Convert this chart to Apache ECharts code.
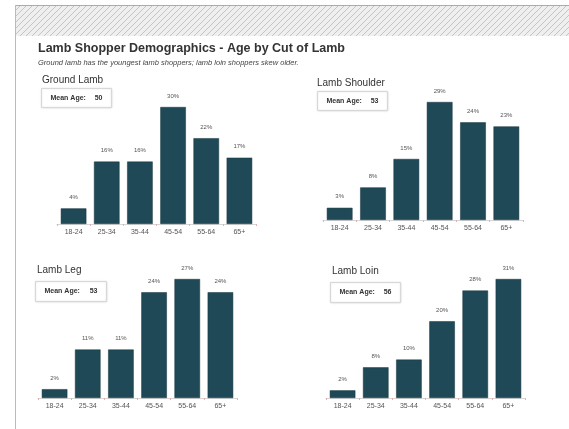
<!DOCTYPE html>
<html>
<head>
<meta charset="utf-8">
<script src="https://cdn.jsdelivr.net/npm/echarts@6/dist/echarts.min.js"></script>
<style>
  html, body { margin: 0; padding: 0; background: #fff; }
  #main { width: 569px; height: 429px; }
</style>
</head>
<body>
<div id="main"></div>
<script>
var ageGroups = ['18-24', '25-34', '35-44', '45-54', '55-64', '65+'];
var cuts = ['Ground Lamb', 'Lamb Shoulder', 'Lamb Leg', 'Lamb Loin'];
var groundLamb = [4, 16, 16, 30, 22, 17];
var lambShoulder = [3, 8, 15, 29, 24, 23];
var lambLeg = [2, 11, 11, 24, 27, 24];
var lambLoin = [2, 8, 10, 20, 28, 31];
var meanAges = [50, 53, 53, 56];

var seriesData = [groundLamb, lambShoulder, lambLeg, lambLoin];

// panel layout: grid box, title spot, mean age box
var panels = [
  { grid: { left: 57, width: 199, top: 107, height: 117 }, title: [42, 75], box: [41, 88, 70, 19] },
  { grid: { left: 323, width: 200, top: 102, height: 118 }, title: [317, 78], box: [317, 91, 70, 19] },
  { grid: { left: 38, width: 199, top: 279, height: 119 }, title: [37, 265], box: [35, 281, 71, 20] },
  { grid: { left: 326, width: 199, top: 279, height: 119 }, title: [332, 266], box: [330, 282, 70, 20] }
];

var barColor = '#1f4956';

// diagonal hatch for the header band
var hatch = document.createElement('canvas');
hatch.width = 6;
hatch.height = 6;
var hc = hatch.getContext('2d');
hc.fillStyle = '#efefef';
hc.fillRect(0, 0, 6, 6);
hc.strokeStyle = '#c4c4c4';
hc.lineWidth = 1;
hc.beginPath();
hc.moveTo(0, 6); hc.lineTo(6, 0);
hc.moveTo(-3, 3); hc.lineTo(3, -3);
hc.moveTo(3, 9); hc.lineTo(9, 3);
hc.stroke();

var myChart = echarts.init(document.getElementById('main'), null, { renderer: 'canvas' });

var titles = [{
  text: 'Lamb Shopper Demographics - Age by Cut of Lamb',
  subtext: 'Ground lamb has the youngest lamb shoppers; lamb loin shoppers skew older.',
  left: 38,
  top: 42,
  itemGap: 4,
  textStyle: { fontFamily: 'Liberation Sans', fontSize: 12.5, fontWeight: 'bold', color: '#333' },
  subtextStyle: { fontFamily: 'Liberation Sans', fontSize: 7.5, fontStyle: 'italic', color: '#444' },
  padding: 0
}];

var grids = [], xAxes = [], yAxes = [], series = [];
var graphics = [
  {
    type: 'rect', left: 15, top: 5, z: 0,
    shape: { width: 560, height: 31 },
    style: { fill: { image: hatch, repeat: 'repeat' } }
  },
  {
    type: 'line', z: 1,
    shape: { x1: 15, y1: 5.5, x2: 569, y2: 5.5 },
    style: { stroke: '#aaa', lineWidth: 1 }
  },
  {
    type: 'line', z: 1,
    shape: { x1: 15.5, y1: 5, x2: 15.5, y2: 429 },
    style: { stroke: '#bbb', lineWidth: 1 }
  }
];

panels.forEach(function (p, i) {
  titles.push({
    text: cuts[i],
    left: p.title[0],
    top: p.title[1],
    padding: 0,
    textStyle: { fontFamily: 'Liberation Sans', fontSize: 10, fontWeight: 'normal', color: '#333' }
  });
  grids.push(p.grid);
  xAxes.push({
    type: 'category',
    gridIndex: i,
    data: ageGroups,
    axisLine: { lineStyle: { color: '#d6d6d6' } },
    axisTick: { show: true, length: 2, lineStyle: { color: '#e4b0b0' } },
    axisLabel: { fontFamily: 'Liberation Sans', fontSize: 7, color: '#555', margin: 5 }
  });
  yAxes.push({
    type: 'value',
    gridIndex: i,
    min: 0,
    max: 'dataMax',
    show: false,
    splitLine: { show: false }
  });
  series.push({
    type: 'bar',
    xAxisIndex: i,
    yAxisIndex: i,
    data: seriesData[i],
    barWidth: '77%',
    itemStyle: { color: barColor, borderColor: '#16353f', borderWidth: 0.5 },
    label: {
      show: true,
      position: 'top',
      distance: 8,
      formatter: '{c}%',
      fontFamily: 'Liberation Sans',
      fontSize: 6,
      color: '#555'
    }
  });
  var b = p.box;
  graphics.push({
    type: 'group',
    left: b[0],
    top: b[1],
    children: [
      {
        type: 'rect',
        shape: { width: b[2], height: b[3] },
        style: { fill: '#fff', stroke: '#d8d8d8', lineWidth: 1, shadowBlur: 2, shadowColor: 'rgba(0,0,0,0.12)' }
      },
      {
        type: 'text',
        x: 9, y: b[3] / 2,
        style: { text: 'Mean Age:', font: 'bold 7px "Liberation Sans"', fill: '#333', verticalAlign: 'middle' }
      },
      {
        type: 'text',
        x: b[2] - 9, y: b[3] / 2,
        style: { text: String(meanAges[i]), font: 'bold 7px "Liberation Sans"', fill: '#333', align: 'right', verticalAlign: 'middle' }
      }
    ]
  });
});

var option = {
  backgroundColor: '#fff',
  animation: false,
  title: titles,
  grid: grids,
  xAxis: xAxes,
  yAxis: yAxes,
  series: series,
  graphic: graphics
};

if (option && typeof option === 'object') {
  myChart.setOption(option);
}

window.addEventListener('resize', myChart.resize);
</script>
</body>
</html>
